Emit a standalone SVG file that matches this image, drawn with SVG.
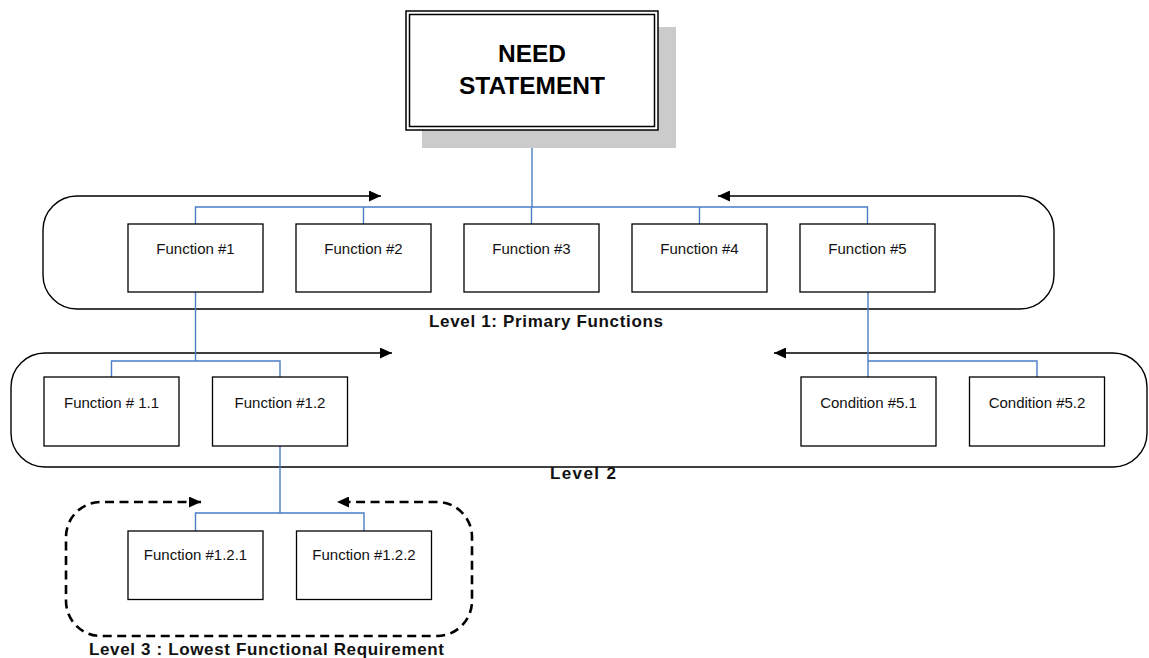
<svg xmlns="http://www.w3.org/2000/svg" width="1149" height="658" viewBox="0 0 1149 658">
<defs>
<style>
.box{fill:#fff;stroke:#000;stroke-width:1.3}
.lbl{font-family:"Liberation Sans",Arial,sans-serif;font-size:15px;fill:#111;text-anchor:middle}
.lvl{font-family:"Liberation Sans",Arial,sans-serif;font-size:17px;font-weight:bold;fill:#111;text-anchor:middle}
.need{font-family:"Liberation Sans",Arial,sans-serif;font-size:24.5px;font-weight:bold;fill:#000;text-anchor:middle}
.cont{fill:none;stroke:#000;stroke-width:1.4;marker-start:url(#ah);marker-end:url(#ah)}
.dash{fill:none;stroke:#000;stroke-width:2.6;stroke-dasharray:9 5.5;marker-start:url(#ah);marker-end:url(#ah)}
.conn{fill:none;stroke:#4a7cc6;stroke-width:1.4}
</style>
<marker id="ah" viewBox="0 0 12 11" refX="12" refY="5.5" markerWidth="12" markerHeight="11" markerUnits="userSpaceOnUse" orient="auto-start-reverse">
<path d="M0,0 L12,5.5 L0,11 z" fill="#000"/>
</marker>
</defs>

<g id="level1-container">
<path class="cont" d="M381 196 H77 A34 34 0 0 0 43 230 V275 A34 34 0 0 0 77 309 H1020 A34 34 0 0 0 1054 275 V230 A34 34 0 0 0 1020 196 H718"/>
<text class="lvl" x="546" y="327" textLength="234" lengthAdjust="spacing">Level 1: Primary Functions</text>
</g>
<g id="level2-container">
<path class="cont" d="M392 353 H45 A34 34 0 0 0 11 387 V433 A34 34 0 0 0 45 467 H1113 A34 34 0 0 0 1147 433 V387 A34 34 0 0 0 1113 353 H774"/>
<text class="lvl" x="583" y="479" textLength="66" lengthAdjust="spacing">Level 2</text>
</g>
<g id="level3-container">
<path class="dash" d="M201 502 H101 A35 35 0 0 0 66 537 V601 A35 35 0 0 0 101 636 H437 A35 35 0 0 0 472 601 V537 A35 35 0 0 0 437 502 H337"/>
<text class="lvl" x="266.5" y="655" textLength="355" lengthAdjust="spacing">Level 3 : Lowest Functional Requirement</text>
</g>

<g id="connectors">
<path class="conn" d="M532 130 V207"/>
<path class="conn" d="M195.5 224 V207 H867.5 V224 M363.5 207 V224 M531.5 207 V224 M699.5 207 V224"/>
<path class="conn" d="M195.5 292 V361"/>
<path class="conn" d="M111.5 377 V361 H280 V377"/>
<path class="conn" d="M868 292 V377"/>
<path class="conn" d="M868 361 H1037 V377"/>
<path class="conn" d="M280 446 V513"/>
<path class="conn" d="M195.5 531 V513 H364 V531"/>
</g>

<g id="need-statement">
<rect x="422" y="27" width="254" height="121" fill="#cbcbcb"/>
<rect x="406" y="11" width="252" height="119" fill="#fff" stroke="#000" stroke-width="1.5"/>
<rect x="409.5" y="14.5" width="245" height="112" fill="none" stroke="#000" stroke-width="1.5"/>
<text class="need" x="532" y="62">NEED</text>
<text class="need" x="532" y="94">STATEMENT</text>
</g>

<g id="f1"><rect class="box" x="128" y="224" width="135" height="68"/><text class="lbl" x="195.5" y="254">Function #1</text></g>
<g id="f2"><rect class="box" x="296" y="224" width="135" height="68"/><text class="lbl" x="363.5" y="254">Function #2</text></g>
<g id="f3"><rect class="box" x="464" y="224" width="135" height="68"/><text class="lbl" x="531.5" y="254">Function #3</text></g>
<g id="f4"><rect class="box" x="632" y="224" width="135" height="68"/><text class="lbl" x="699.5" y="254">Function #4</text></g>
<g id="f5"><rect class="box" x="800" y="224" width="135" height="68"/><text class="lbl" x="867.5" y="254">Function #5</text></g>

<g id="f1-1"><rect class="box" x="44" y="377" width="135" height="69"/><text class="lbl" x="111.5" y="408">Function # 1.1</text></g>
<g id="f1-2"><rect class="box" x="212.5" y="377" width="135" height="69"/><text class="lbl" x="280" y="408">Function #1.2</text></g>
<g id="c5-1"><rect class="box" x="801" y="377" width="135" height="69"/><text class="lbl" x="868.5" y="408">Condition #5.1</text></g>
<g id="c5-2"><rect class="box" x="969.5" y="377" width="135" height="69"/><text class="lbl" x="1037" y="408">Condition #5.2</text></g>

<g id="f1-2-1"><rect class="box" x="128" y="531" width="135" height="68.5"/><text class="lbl" x="195.5" y="560">Function #1.2.1</text></g>
<g id="f1-2-2"><rect class="box" x="296.5" y="531" width="135" height="68.5"/><text class="lbl" x="364" y="560">Function #1.2.2</text></g>
</svg>
